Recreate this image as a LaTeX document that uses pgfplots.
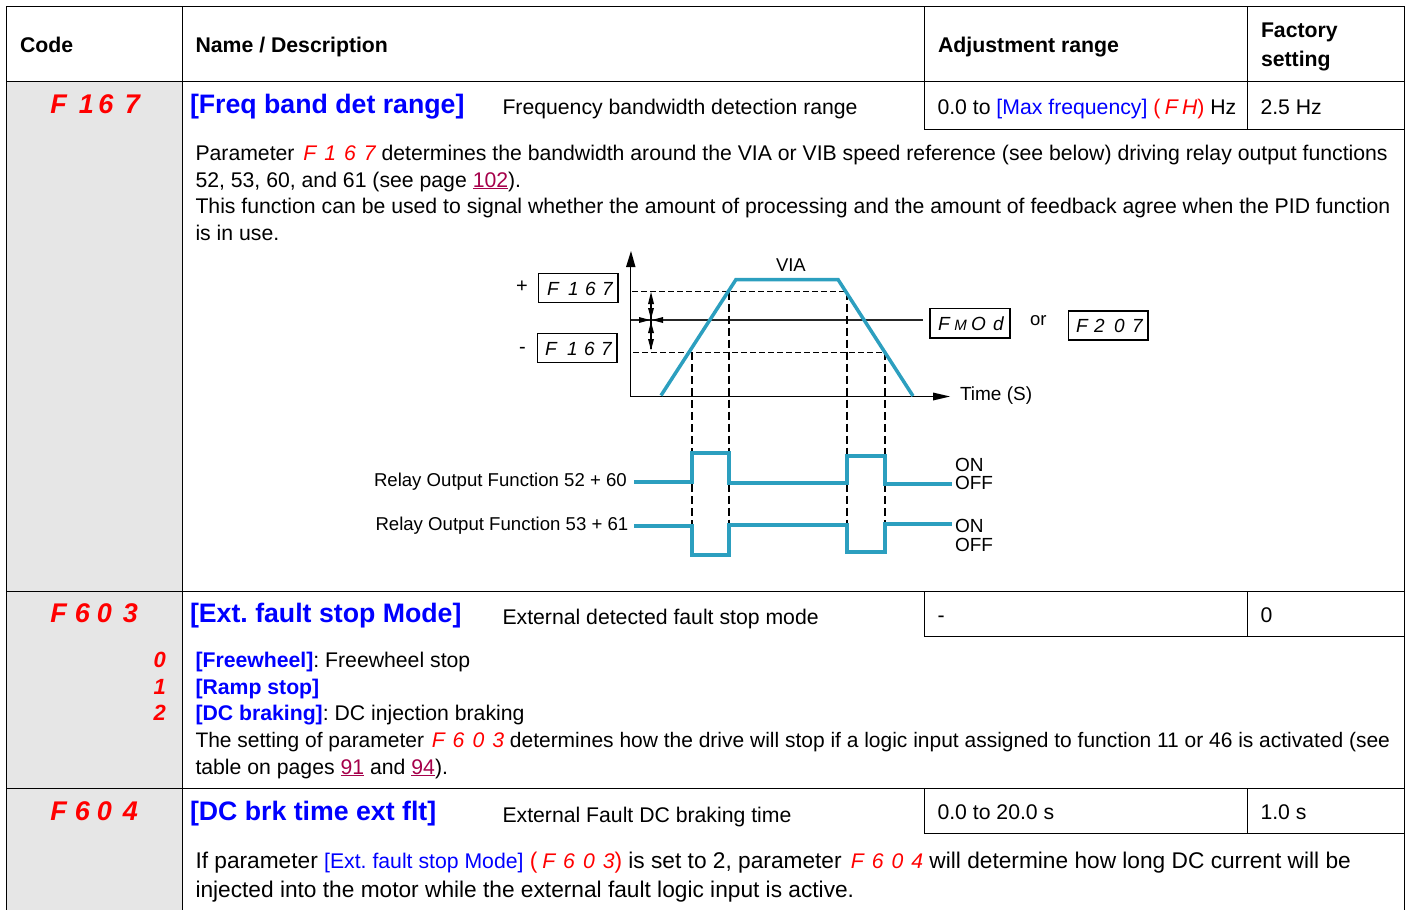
\documentclass[border=0pt]{standalone}
\usepackage{pgfplots}
\pgfplotsset{compat=1.18}
\usepackage{fontspec}
\setmainfont{Liberation Sans}
\definecolor{linkred}{HTML}{A5004A}
\definecolor{mblue}{HTML}{0000FF}
\definecolor{teal2}{HTML}{2C9FBF}
\definecolor{cellgray}{HTML}{E6E6E6}
\definecolor{mred}{HTML}{FF0000}
\newcommand\fs[1]{\fontsize{#1}{#1}\selectfont\frenchspacing}
\newcommand\sg[1]{\makebox[19.8pt][r]{\textcolor{mred}{\fs{21.17}\itshape #1}}}
\newcommand\sgs[2]{\makebox[#1pt][r]{\itshape #2}}
\newcommand\lnk[1]{\textcolor{linkred}{\underline{#1}}}
\newcommand\bl[1]{\textcolor{mblue}{#1}}
\newcommand\T[4][21.22]{\node[anchor=base west,inner sep=0pt,outer sep=0pt] at (axis cs:#2,#3) {\fs{#1}#4};}
\newcommand\C[3]{\node[anchor=base east,inner sep=0pt,text=mred] at (axis cs:#1,#2) {\fs{27}\bfseries\itshape #3};}
\newcommand\D[4][19]{\node[anchor=base east,inner sep=0pt] at (axis cs:#2,#3) {\fs{#1}\itshape #4};}
\begin{document}
\begin{tikzpicture}
\begin{axis}[scale only axis,width=1409pt,height=910pt,xmin=0,xmax=1409,ymin=0,ymax=910,y dir=reverse,hide axis,clip=true]
\path (axis cs:0,0) rectangle (axis cs:1409,910);
% grey cell
\addplot[fill=cellgray,draw=none] coordinates {(7,81)(182,81)(182,910)(7,910)} -- cycle;
% table rules
\addplot[black,line width=1.3pt] coordinates {(6.5,910)(6.5,6.5)(1404.5,6.5)(1404.5,910)};
\addplot[black,line width=1.3pt] coordinates {(6.5,81.5)(1404.5,81.5)};
\addplot[black,line width=1.3pt] coordinates {(6.5,591.5)(1404.5,591.5)};
\addplot[black,line width=1.3pt] coordinates {(6.5,788.5)(1404.5,788.5)};
\addplot[black,line width=1.3pt] coordinates {(182.5,6.5)(182.5,910)};
\addplot[black,line width=1.3pt] coordinates {(924.5,6.5)(924.5,129.5)(1404.5,129.5)};
\addplot[black,line width=1.3pt] coordinates {(1247.5,6.5)(1247.5,129.5)};
\addplot[black,line width=1.3pt] coordinates {(924.5,591)(924.5,636.5)(1404.5,636.5)};
\addplot[black,line width=1.3pt] coordinates {(1247.5,591)(1247.5,636.5)};
\addplot[black,line width=1.3pt] coordinates {(924.5,788)(924.5,833.5)(1404.5,833.5)};
\addplot[black,line width=1.3pt] coordinates {(1247.5,788)(1247.5,833.5)};
% diagram
\addplot[black,line width=1.1pt] coordinates {(630.5,262)(630.5,396.5)(936,396.5)};
\addplot[fill=black,draw=none] coordinates {(631,251)(626,267)(635.5,267)} -- cycle;
\addplot[fill=black,draw=none] coordinates {(950,396.5)(933,392.5)(933,400.5)} -- cycle;
\addplot[black!85,line width=1.3pt] coordinates {(631,320)(923,320)};
\addplot[black,line width=1.4pt,dash pattern=on 6pt off 3pt] coordinates {(632,291.5)(847,291.5)};
\addplot[black,line width=1.4pt,dash pattern=on 6pt off 3pt] coordinates {(633,352.5)(885,352.5)};
\addplot[black,line width=1.4pt,dash pattern=on 8pt off 4pt] coordinates {(692,352)(692,526)};
\addplot[black,line width=1.4pt,dash pattern=on 8pt off 4pt] coordinates {(729,291.5)(729,526)};
\addplot[black,line width=1.4pt,dash pattern=on 8pt off 4pt] coordinates {(847,291.5)(847,526)};
\addplot[black,line width=1.4pt,dash pattern=on 8pt off 4pt] coordinates {(885,352)(885,526)};
% double arrows
\addplot[black,line width=1.1pt] coordinates {(651,295)(651,349)};
\addplot[fill=black,draw=none] coordinates {(651,292)(648,304)(654,304)} -- cycle;
\addplot[fill=black,draw=none] coordinates {(651,319)(648,308)(654,308)} -- cycle;
\addplot[fill=black,draw=none] coordinates {(651,322)(648,333)(654,333)} -- cycle;
\addplot[fill=black,draw=none] coordinates {(651,350)(648,339)(654,339)} -- cycle;
\addplot[fill=black,draw=none] coordinates {(650,320)(639,317)(639,323)} -- cycle;
\addplot[fill=black,draw=none] coordinates {(652,320)(663,317)(663,323)} -- cycle;
% VIA trapezoid
\addplot[teal2,line width=3.5pt,line join=miter] coordinates {(661,395.5)(736,279.5)(838,279.5)(913,396)};
% relay traces
\addplot[teal2,line width=3.5pt] coordinates {(634,482)(692,482)(692,453)(729,453)(729,483)(847,483)(847,456)(885,456)(885,484)(952,484)};
\addplot[teal2,line width=3.5pt] coordinates {(634,526)(692,526)(692,555)(729,555)(729,525)(847,525)(847,552)(885,552)(885,524)(952,524)};
% boxes
\addplot[black,line width=1.8pt] coordinates {(538.5,273.5)(618,273.5)(618,302.5)(538.5,302.5)} -- cycle;
\addplot[black,line width=1.8pt] coordinates {(537.5,333.5)(617,333.5)(617,362.5)(537.5,362.5)} -- cycle;
\addplot[black,line width=1.8pt] coordinates {(930,308.5)(1010,308.5)(1010,338)(930,338)} -- cycle;
\addplot[black,line width=1.8pt] coordinates {(1068.5,311)(1148,311)(1148,340)(1068.5,340)} -- cycle;
% header
\T[21.25]{20}{52}{\bfseries Code}
\T[21.25]{195.5}{52}{\bfseries Name / Description}
\T[21.3]{938}{52}{\bfseries Adjustment range}
\T[21.25]{1261}{37}{\bfseries Factory}
\T[21.25]{1261}{66}{\bfseries setting}
% row 1
\C{67}{113}{F}\C{94}{113}{1}\C{113.5}{113}{6}\C{140}{113}{7}
\T[26.7]{190}{113}{\bfseries\bl{[Freq band det range]}}
\T{502.5}{114}{Frequency bandwidth detection range}
\T{937.5}{114}{0.0 to \bl{[Max frequency]} \textcolor{mred}{(\sgs{17.5}{F}\sgs{19.5}{H})} Hz}
\T{1260.5}{114}{2.5 Hz}
\T{195.5}{160}{Parameter \hspace*{-4pt}\sg{F}\sg{1}\sg{6}\sg{7} determines the bandwidth around the VIA or VIB speed reference (see below) driving relay output functions}
\T{195.5}{187}{52, 53, 60, and 61 (see page \lnk{102}).}
\T{195.5}{213}{This function can be used to signal whether the amount of processing and the amount of feedback agree when the PID function}
\T{195.5}{240}{is in use.}
% diagram text
\T[18.5]{776}{271}{VIA}
\T[19]{960}{400}{Time (S)}
\T[20]{516}{292}{+}
\T[20]{519}{353}{-}
\T[18.5]{1030}{325}{or}
\T[18.6]{374}{486}{Relay Output Function 52 + 60}
\T[18.6]{375.5}{530}{Relay Output Function 53 + 61}
\T[19]{955}{471}{ON}
\T[19]{955}{489}{OFF}
\T[19]{955}{532}{ON}
\T[19]{955}{551}{OFF}
\D{559}{295}{F}\D{579}{295}{1}\D{596}{295}{6}\D{613}{295}{7}
\D{557}{355}{F}\D{578}{355}{1}\D{595}{355}{6}\D{612}{355}{7}
\D{950}{330}{F}\D[15]{967}{330}{M}\D{986}{330}{O}\D{1004}{330}{d}
\D{1088}{332}{F}\D{1105}{332}{2}\D{1125}{332}{0}\D{1143}{332}{7}
% row 2
\C{67}{622}{F}\C{90}{622}{6}\C{112}{622}{0}\C{138}{622}{3}
\T[26.7]{190}{622}{\bfseries\bl{[Ext. fault stop Mode]}}
\T{502.5}{624}{External detected fault stop mode}
\T{937.5}{622}{-}
\T{1260.5}{622}{0}
\node[anchor=base east,inner sep=0pt,text=mred] at (axis cs:166,667) {\fs{22}\bfseries\itshape 0};
\node[anchor=base east,inner sep=0pt,text=mred] at (axis cs:166,694) {\fs{22}\bfseries\itshape 1};
\node[anchor=base east,inner sep=0pt,text=mred] at (axis cs:166,720) {\fs{22}\bfseries\itshape 2};
\T{195.5}{667}{\bfseries\bl{[Freewheel]}\mdseries: Freewheel stop}
\T{195.5}{694}{\bfseries\bl{[Ramp stop]}}
\T{195.5}{720}{\bfseries\bl{[DC braking]}\mdseries: DC injection braking}
\T[20.98]{195.5}{747}{The setting of parameter \hspace*{-5pt}\sg{F}\sg{6}\sg{0}\sg{3} determines how the drive will stop if a logic input assigned to function 11 or 46 is activated (see}
\T{195.5}{774}{table on pages \lnk{91} and \lnk{94}).}
% row 3
\C{67}{820}{F}\C{90}{820}{6}\C{112}{820}{0}\C{138}{820}{4}
\T[26.7]{190}{820}{\bfseries\bl{[DC brk time ext flt]}}
\T{502.5}{822}{External Fault DC braking time}
\T{937.5}{819}{0.0 to 20.0 s}
\T{1260.5}{819}{1.0 s}
\T[22.7]{195.5}{868}{If parameter \bl{\fs{21.22}[Ext. fault stop Mode]} \textcolor{mred}{(\hspace*{-2pt}\sg{F}\sg{6}\sg{0}\sg{3})} is set to 2, parameter \hspace*{-4pt}\sg{F}\sg{6}\sg{0}\sg{4} will determine how long DC current will be}
\T[22.7]{195.5}{897}{injected into the motor while the external fault logic input is active.}
\end{axis}
\end{tikzpicture}
\end{document}
